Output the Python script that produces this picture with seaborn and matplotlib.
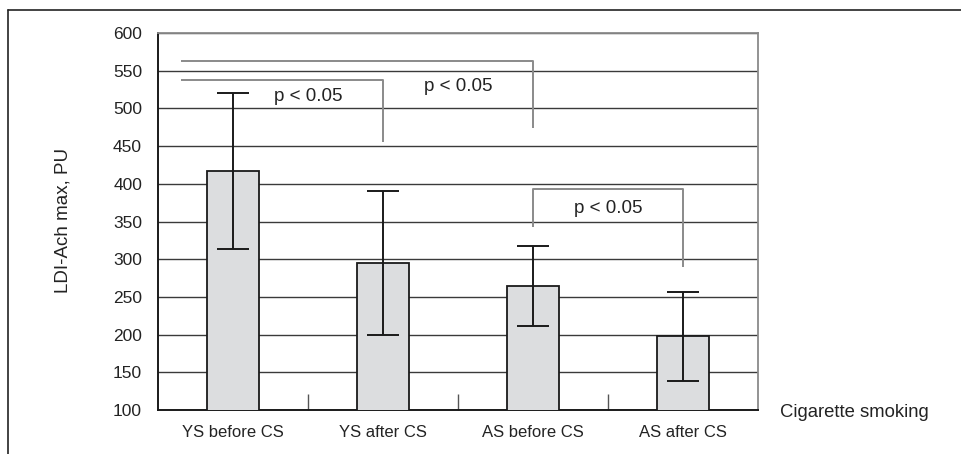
import matplotlib
matplotlib.use("Agg")
import matplotlib.pyplot as plt
from matplotlib.lines import Line2D
import seaborn as sns
import pandas as pd

# Maximal LDI-Ach response per group (mean and SD)
categories = ["YS before CS", "YS after CS", "AS before CS", "AS after CS"]
means = [417, 295, 264, 198]
sds = [103, 96, 53, 59]
y_ticks = [100, 150, 200, 250, 300, 350, 400, 450, 500, 550, 600]
p_label = "p < 0.05"

sns.set_theme(style="white")
plt.rcParams["font.family"] = ["Liberation Sans", "DejaVu Sans"]
text_color = "#232323"

df = pd.DataFrame({"group": categories, "value": means})

fig = plt.figure(figsize=(9.61, 4.54), dpi=100)
ax = fig.add_axes([158 / 961, 1 - 410 / 454, 600 / 961, 377 / 454])

sns.barplot(data=df, x="group", y="value", order=categories, errorbar=None,
            width=0.35, color="#dcdddf", edgecolor="#1a1a1a", linewidth=1.3,
            saturation=1, ax=ax, zorder=3)

ax.errorbar(range(len(categories)), means, yerr=sds, fmt="none",
            ecolor="#1a1a1a", elinewidth=1.4, capsize=11.5, capthick=1.4,
            zorder=4)

ax.set_xlim(-0.5, 3.5)
ax.set_ylim(100, 600)
ax.set_yticks(y_ticks)
ax.set_yticklabels([str(t) for t in y_ticks])
ax.set_xlabel("")
ax.set_ylabel("")

# horizontal grid at every tick
ax.set_axisbelow(True)
ax.yaxis.grid(True, color="#3a3a3a", linewidth=1.0, zorder=0)
ax.xaxis.grid(False)

# category separators drawn as inward minor ticks
ax.set_xticks([0.5, 1.5, 2.5], minor=True)
ax.tick_params(axis="x", which="minor", direction="in", length=11.5,
               width=1.0, color="#555555", bottom=True)
ax.tick_params(axis="x", which="major", length=0, pad=11,
               labelsize=12, labelcolor=text_color)
ax.tick_params(axis="y", which="major", length=0, pad=11.5,
               labelsize=12.5, labelcolor=text_color)

for side in ["left", "bottom"]:
    ax.spines[side].set_color("#1a1a1a")
    ax.spines[side].set_linewidth(1.4)
for side in ["top", "right"]:
    ax.spines[side].set_color("#8a8a8a")
    ax.spines[side].set_linewidth(1.3)

# significance brackets
bk = dict(color="#8a8a8a", linewidth=1.4, zorder=5, solid_capstyle="butt")
ax.plot([-0.35, 2, 2], [563, 563, 474], **bk)
ax.plot([-0.35, 1, 1], [538, 538, 456], **bk)
ax.plot([2, 2, 3, 3], [343, 392.5, 392.5, 289], **bk)

pk = dict(ha="center", va="baseline", fontsize=13.5, color=text_color, zorder=6)
ax.text(0.5, 510, p_label, **pk)
ax.text(1.5, 523, p_label, **pk)
ax.text(2.5, 361, p_label, **pk)

# axis titles
fig.text(63 / 961, 1 - 220 / 454, "LDI-Ach max, PU", rotation=90,
         ha="center", va="center", fontsize=13.5, color=text_color)
fig.text(780 / 961, 1 - 417 / 454, "Cigarette smoking", ha="left",
         va="baseline", fontsize=13.3, color=text_color)

# outer frame (top and left edges)
fig.add_artist(Line2D([8 / 961, 1.0], [1 - 10 / 454, 1 - 10 / 454],
                      color="#222222", linewidth=1.2, transform=fig.transFigure))
fig.add_artist(Line2D([8 / 961, 8 / 961], [1 - 10 / 454, 0.0],
                      color="#222222", linewidth=1.2, transform=fig.transFigure))

fig.savefig("out.png", dpi=100)
